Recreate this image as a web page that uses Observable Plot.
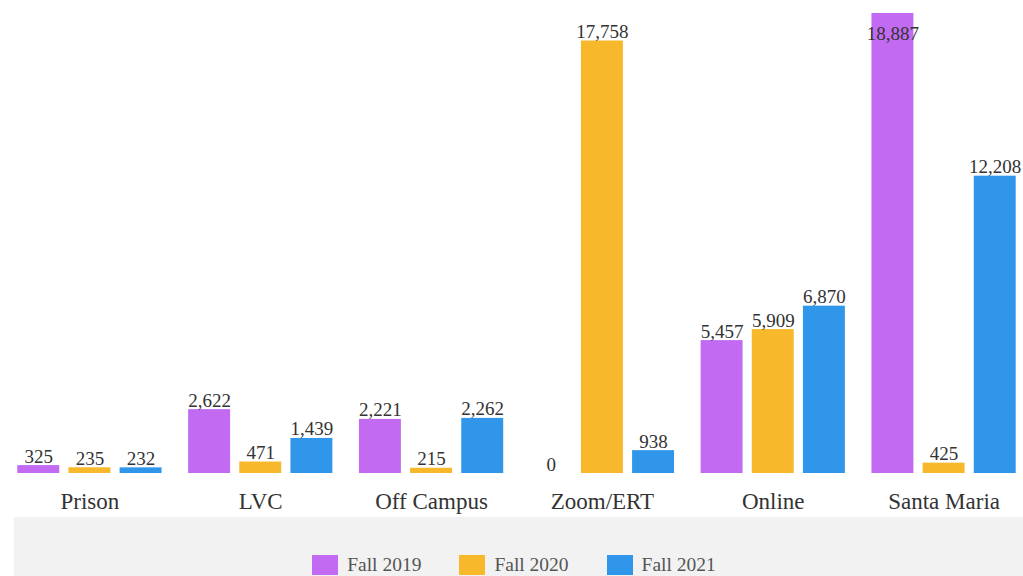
<!DOCTYPE html>
<html>
<head>
<meta charset="utf-8">
<script src="https://cdn.jsdelivr.net/npm/d3@7"></script>
<script src="https://cdn.jsdelivr.net/npm/@observablehq/plot@0.6"></script>
<style>
  body { margin: 0; background: #fff; font-family: "Liberation Serif", "Times New Roman", serif; overflow: hidden; }
  #legend { margin-left: 14px; margin-top: 2px; background: #f2f2f2; height: 80px; padding-top: 37px; padding-right: 9px; box-sizing: border-box;
            display: flex; justify-content: center; align-items: flex-start; gap: 38px; font-size: 19.5px; color: #555; }
  .item { display: flex; align-items: center; gap: 9px; }
  .sw { width: 26px; height: 20px; display: inline-block; }
</style>
</head>
<body>
<div id="chart"></div>
<div id="legend"></div>
<script>
const categories = ["Prison", "LVC", "Off Campus", "Zoom/ERT", "Online", "Santa Maria"];
const series = ["Fall 2019", "Fall 2020", "Fall 2021"];
const fall2019 = [325, 2622, 2221, 0, 5457, 18887];
const fall2020 = [235, 471, 215, 17758, 5909, 425];
const fall2021 = [232, 1439, 2262, 938, 6870, 12208];
const colors = ["#c26bf2", "#f7b92b", "#2f96ea"];

const seriesValues = [fall2019, fall2020, fall2021];
const data = [];
categories.forEach((c, i) => {
  series.forEach((s, j) => data.push({cat: c, series: s, value: seriesValues[j][i]}));
});
const maxV = d3.max(data, d => d.value);
const fmt = d3.format(",");

const plot = Plot.plot({
  width: 1023,
  height: 515,
  marginTop: 13,
  marginBottom: 42,
  marginLeft: 4,
  marginRight: 0,
  style: {fontFamily: '"Liberation Serif", "Times New Roman", serif', color: "#333", background: "#fff"},
  fx: {domain: categories, padding: 0, range: [4, 1029], round: false},
  x: {domain: series, paddingInner: 0.18, paddingOuter: 0.26, round: false, axis: null},
  y: {domain: [0, maxV], nice: false, axis: null},
  color: {domain: series, range: colors},
  marks: [
    Plot.barY(data, {fx: "cat", x: "series", y: "value", fill: "series"}),
    Plot.text(data.filter(d => d.value < maxV), {
      fx: "cat", x: "series", y: "value", text: d => fmt(d.value),
      lineAnchor: "bottom", dy: -3, fontSize: 19, fill: "#333"
    }),
    Plot.text(data.filter(d => d.value === maxV), {
      fx: "cat", x: "series", y: "value", text: d => fmt(d.value),
      lineAnchor: "top", dy: 13, fontSize: 19, fill: "#333"
    }),
    Plot.axisFx({anchor: "bottom", tickSize: 0, tickPadding: 19, fontSize: 23, label: null, fill: "#333"})
  ]
});
document.getElementById("chart").appendChild(plot);

const legend = d3.select("#legend");
series.forEach((s, i) => {
  const item = legend.append("div").attr("class", "item");
  item.append("span").attr("class", "sw").style("background", colors[i]);
  item.append("span").text(s);
});
</script>
</body>
</html>
